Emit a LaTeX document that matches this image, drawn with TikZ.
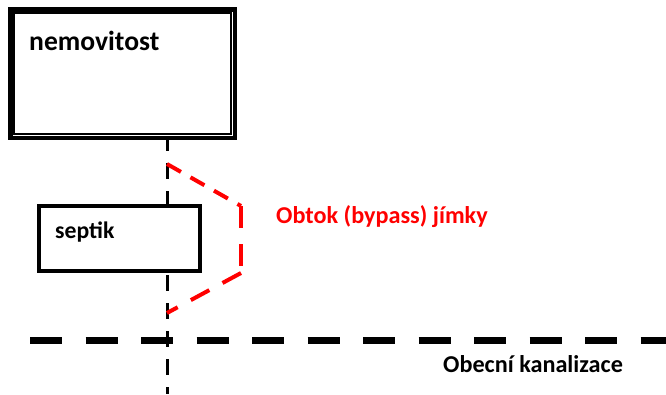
\documentclass[tikz,border=0pt]{standalone}
\usepackage{fontspec}
\setmainfont{Carlito}
\begin{document}
\begin{tikzpicture}[x=1pt,y=-1pt,
  lbl/.style={anchor=base west, inner sep=0pt, font=\bfseries\fontsize{24.2}{26}\selectfont},
  boxline/.style={draw=black, fill=white},
  redline/.style={draw={rgb,255:red,255;green,0;blue,0}, line width=4pt},
]
\useasboundingbox[fill=white] (0,0) rectangle (666,394);
% vertical dashed line
\coordinate (vtop) at (167,139);
\coordinate (vbot) at (167,394);
\draw[line width=3pt, dash pattern=on 16pt off 12pt, dash phase=4pt] (vtop) -- (vbot);
% nemovitost box
\node[boxline, line width=4.6pt, minimum width=224.6pt, minimum height=128.6pt, inner sep=0pt] (nem) at (122.5,73.5) {};
\draw[line width=1.4pt] ([shift={(6,6)}]nem.north west) rectangle ([shift={(-6,-6)}]nem.south east);
\node[lbl, font=\bfseries\fontsize{27.6}{30}\selectfont] (nemt) at (29,50) {nemovitost};
% septik box
\node[boxline, line width=4pt, minimum width=161pt, minimum height=65pt, inner sep=0pt] (sep) at (119.5,238.5) {};
\node[lbl, font=\bfseries\fontsize{23.7}{26}\selectfont] (sept) at (55,238) {septik};
% red bypass
\coordinate (r1) at (167,164);
\coordinate (r2) at (241,206);
\coordinate (r3) at (241,273);
\coordinate (r4) at (167,313);
\draw[redline, dash pattern=on 16pt off 11pt] (r1) -- (r2);
\draw[redline, dash pattern=on 22pt off 16pt] (r2) -- (r3);
\draw[redline, dash pattern=on 21pt off 15pt] (r3) -- (r4);
\node[lbl, text={rgb,255:red,255;green,0;blue,0}] (obt) at (276,223) {Obtok (bypass) jímky};
% horizontal dashed line
\coordinate (h1) at (30,340.5);
\coordinate (h2) at (666,340.5);
\draw[line width=7pt, dash pattern=on 32pt off 23.5pt] (h1) -- (h2);
\node[lbl] (kan) at (443,372) {Obecní kanalizace};
\end{tikzpicture}
\end{document}
